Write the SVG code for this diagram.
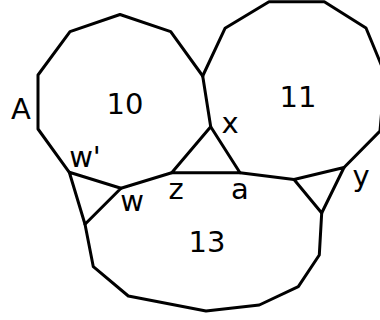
<svg xmlns="http://www.w3.org/2000/svg" width="380" height="320" viewBox="0 0 380 320">
<style>
.e{fill:none;stroke:#000;stroke-width:3;stroke-linejoin:round;stroke-linecap:round}
text{font-family:"DejaVu Sans",sans-serif;font-size:29px;fill:#000;text-anchor:middle}
</style>
<rect width="380" height="320" fill="#fff"/>
<g id="connectors">
<path class="e" d="M202.7,76 L170.7,31.7 L120,14.5 L70,31.7 L38,75 L38,129 L69.3,172.3"/>
<path class="e" d="M69.3,172.3 L121,188.3 L85,224.3 Z"/>
<path class="e" d="M121,188.3 L171.7,172.7"/>
<path class="e" d="M171.7,172.7 L240,172.7 L210.7,126.7 Z"/>
<path class="e" d="M210.7,126.7 L202.7,76"/>
<path class="e" d="M240,172.7 L294,179.5"/>
<path class="e" d="M294,179.5 L344,167.5 L321.7,213 Z"/>
<path class="e" d="M202.7,76 L225,28.3 L269,1.7 L324.3,1.7 L366,28 L385,74 L380,131 L344,167.5"/>
<path class="e" d="M85,224.3 L93.3,266.7 L128.3,296 L206,311 L259.3,305 L298.3,286.7 L319.3,255 L321.7,213"/>
</g>
<g id="labels">
<text x="21" y="118.5">A</text>
<text x="125" y="114">10</text>
<text x="298" y="107">11</text>
<text x="207" y="251.5">13</text>
<text x="230" y="132.5">x</text>
<text x="85" y="166.5">w'</text>
<text x="132" y="210.5">w</text>
<text x="176" y="198.5">z</text>
<text x="240" y="198.5">a</text>
<text x="361" y="186">y</text>
</g>
</svg>
